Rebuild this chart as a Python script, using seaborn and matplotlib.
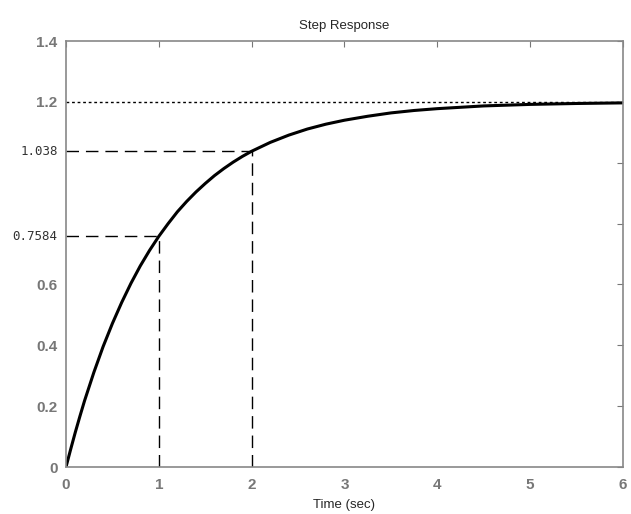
import matplotlib
matplotlib.use("Agg")
import matplotlib.pyplot as plt
import seaborn as sns
import pandas as pd

# Values
time_s = [0.0, 0.05, 0.1, 0.15, 0.2, 0.3, 0.4, 0.5, 0.6, 0.7, 0.8, 0.9, 1.0,
          1.1, 1.2, 1.3, 1.4, 1.5, 1.6, 1.7, 1.8, 1.9, 2.0,
          2.2, 2.4, 2.6, 2.8, 3.0, 3.25, 3.5, 3.75, 4.0, 4.5, 5.0, 5.5, 6.0]
response = [0.0, 0.058, 0.114, 0.167, 0.218, 0.311, 0.396, 0.472, 0.541, 0.604, 0.661,
            0.712, 0.7584, 0.800, 0.839, 0.873, 0.904, 0.932, 0.958, 0.981, 1.002,
            1.021, 1.038, 1.067, 1.091, 1.111, 1.127, 1.140, 1.153, 1.164, 1.172,
            1.178, 1.187, 1.192, 1.195, 1.197]
final_value = 1.2
marked_t = [1, 2]
marked_y = [0.7584, 1.038]
y_ticks = [0, 0.2, 0.4, 0.6, 0.8, 1.0, 1.2, 1.4]
y_ticklabels = ["0", "0.2", "0.4", "0.6", "", "", "1.2", "1.4"]
x_ticks = [0, 1, 2, 3, 4, 5, 6]

sns.set_style("white")
plt.rcParams["font.family"] = ["Liberation Sans", "DejaVu Sans"]
df = pd.DataFrame({"t": time_s, "y": response})

fig = plt.figure(figsize=(6.31, 5.14), dpi=100)
ax = fig.add_axes([0.1046, 0.0914, 0.8826, 0.8286])

sns.lineplot(data=df, x="t", y="y", ax=ax, color="black", lw=2.2)

ax.axhline(final_value, color="black", lw=1, ls=(0, (2, 2)))
for t, y in zip(marked_t, marked_y):
    ax.plot([0, t], [y, y], color="black", lw=1, ls=(0, (9, 5)))
    ax.plot([t, t], [0, y], color="black", lw=1, ls=(0, (9, 5)))

ax.set_xlim(0, 6)
ax.set_ylim(0, 1.4)
ax.set_xticks(x_ticks)
ax.set_yticks(y_ticks)
ax.set_yticklabels(y_ticklabels)
ax.tick_params(direction="in", length=4, color="#777777", top=True, right=True,
               labelcolor="#777777", labelsize=11, pad=6)
ax.tick_params(axis="x", pad=8)
for lab in ax.get_xticklabels() + ax.get_yticklabels():
    lab.set_fontweight("bold")
for sp in ax.spines.values():
    sp.set_color("#888888")
    sp.set_linewidth(1.2)

for y in marked_y:
    ax.text(-0.09, y, f"{y:g}", ha="right", va="center", fontsize=9,
            family="DejaVu Sans Mono", color="#333333", transform=ax.transData)

ax.set_title("Step Response", fontsize=9.5, pad=9)
ax.set_xlabel("Time (sec)", fontsize=9.5, labelpad=5)
ax.set_ylabel("")

fig.savefig("out.png", dpi=100)
